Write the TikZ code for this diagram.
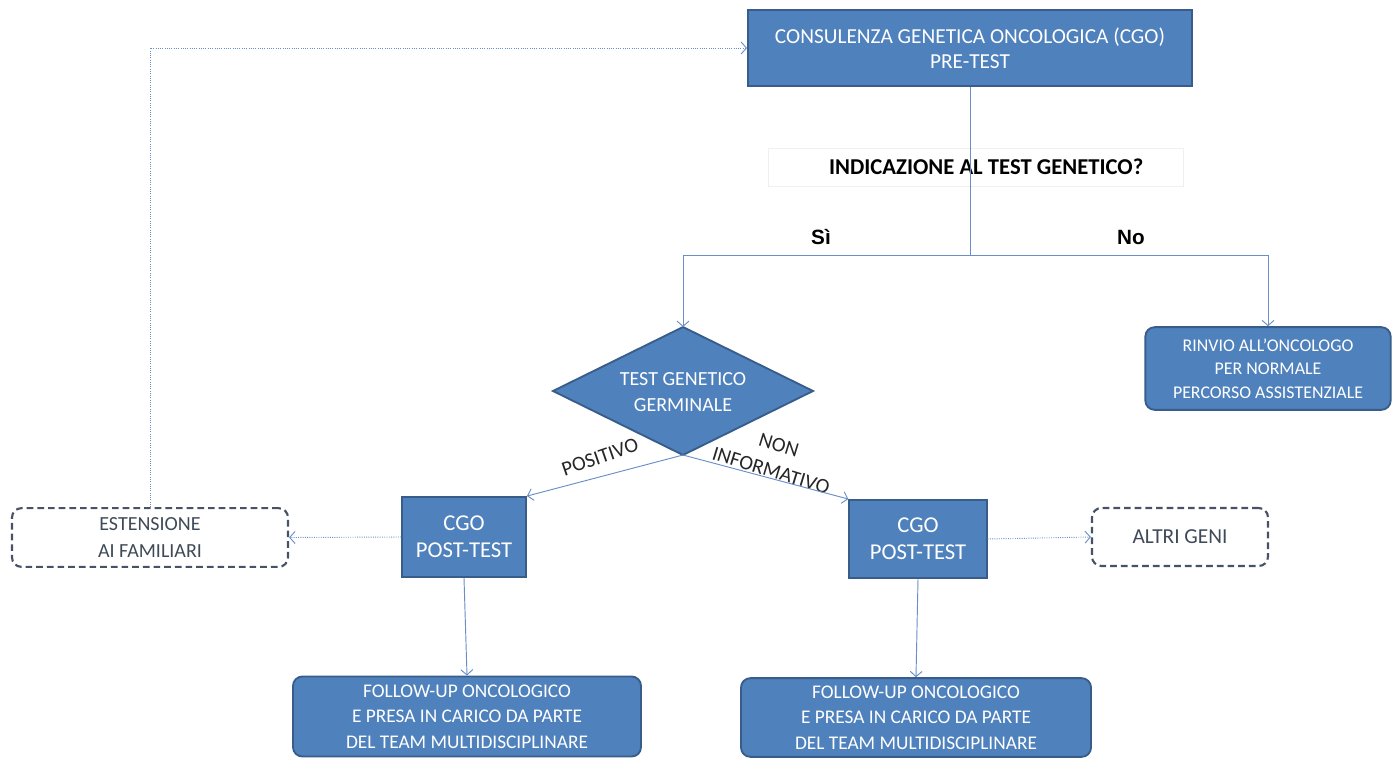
\documentclass[tikz,border=0pt]{standalone}
\usepackage{fontspec}
\setmainfont{Carlito}
\newfontfamily\arialb{Liberation Sans}
\usetikzlibrary{shapes.geometric,arrows.meta,calc}
\definecolor{boxfill}{HTML}{4F81BD}
\definecolor{boxline}{HTML}{385D8A}
\definecolor{conn}{HTML}{6A8FC6}
\definecolor{dashline}{HTML}{465366}
\definecolor{dashtext}{HTML}{3F4A58}
\tikzset{
  bluebox/.style={draw=boxline, line width=1.4pt, fill=boxfill, text=white, align=center, inner sep=2pt},
  roundbox/.style={bluebox, rounded corners=7pt},
  dashbox/.style={draw=dashline, line width=1.6pt, dash pattern=on 5pt off 3pt, rounded corners=7pt, text=dashtext, align=center},
  conline/.style={draw=conn, line width=0.7pt},
  arr/.style={conline, -{Straight Barb[length=4pt,width=9pt]}},
  dotarr/.style={arr, densely dotted},
  lbl/.style={font=\fontsize{15.5}{20}\selectfont, text=black!85, inner sep=1pt}
}
\begin{document}
\begin{tikzpicture}[x=0.75pt,y=-0.75pt]
\useasboundingbox (0,0) rectangle (1395,760);
% nodes
\node[bluebox, minimum width=333pt, minimum height=57pt, font=\fontsize{16}{18.75}\selectfont] (top) at (970,48) {CONSULENZA GENETICA ONCOLOGICA (CGO)\\PRE-TEST};
\node[draw=black!6, fill=white, minimum width=311pt, minimum height=28.5pt, font=\bfseries\fontsize{17}{18}\selectfont] (ind) at (975.5,167) {\hspace*{16pt}INDICAZIONE AL TEST GENETICO?};
% diamond
\coordinate (diaN) at (683,327);
\coordinate (diaS) at (683,455);
\coordinate (diaW) at (553,391);
\coordinate (diaE) at (813,391);
\draw[draw=boxline, line width=1.4pt, fill=boxfill] (diaN) -- (diaE) -- (diaS) -- (diaW) -- cycle;
\node[text=white, align=center, font=\fontsize{15}{20}\selectfont] (dia) at (683,392) {TEST GENETICO\\GERMINALE};
\node[roundbox, minimum width=184pt, minimum height=62pt, font=\fontsize{13.4}{17.5}\selectfont] (rinvio) at (1268,368.5) {RINVIO ALL’ONCOLOGO\\PER NORMALE\\PERCORSO ASSISTENZIALE};
\node[bluebox, minimum width=93pt, minimum height=60pt, font=\fontsize{17}{20}\selectfont] (cgoL) at (464,537) {CGO\\POST-TEST};
\node[bluebox, minimum width=103pt, minimum height=58.5pt, font=\fontsize{17}{20}\selectfont] (cgoR) at (918,539) {CGO\\POST-TEST};
\node[dashbox, minimum width=207pt, minimum height=44pt, font=\fontsize{15}{20.5}\selectfont] (est) at (150,537.5) {ESTENSIONE\\AI FAMILIARI};
\node[dashbox, minimum width=132pt, minimum height=43.5pt, font=\fontsize{16}{19}\selectfont] (altri) at (1180,537) {ALTRI GENI};
\node[roundbox, minimum width=261pt, minimum height=60pt, font=\fontsize{14.5}{19}\selectfont] (folL) at (467,716.5) {FOLLOW-UP ONCOLOGICO\\E PRESA IN CARICO DA PARTE\\DEL TEAM MULTIDISCIPLINARE};
\node[roundbox, minimum width=262.5pt, minimum height=59pt, font=\fontsize{14.5}{19}\selectfont] (folR) at (916,717.5) {FOLLOW-UP ONCOLOGICO\\E PRESA IN CARICO DA PARTE\\DEL TEAM MULTIDISCIPLINARE};
% labels
\node[text=black, font=\arialb\bfseries\fontsize{15.5}{17}\selectfont] (si) at (821,237) {Sì};
\node[text=black, font=\arialb\bfseries\fontsize{15.5}{17}\selectfont] (no) at (1131,237) {No};
\node[lbl, rotate=19] (pos) at (600,457) {POSITIVO};
\node[lbl, rotate=-17, align=center] (noninf) at (775,458) {NON\\INFORMATIVO};
% connectors
\coordinate (split) at (970,255);
\draw[conline] (top.south) -- (split);
\draw[arr] (split) -| (diaN);
\draw[arr] (split) -| (rinvio.north);
\draw[arr] (diaS) -- (cgoL.north east);
\draw[arr] (diaS) -- (cgoR.north west);
\draw[dotarr] (cgoL.west) -- (est.east);
\draw[dotarr] (est.north) |- (top.west);
\draw[dotarr] (cgoR.east) -- (altri.west);
\draw[arr] (cgoL.south) -- (folL.north);
\draw[arr] (cgoR.south) -- (folR.north);
\end{tikzpicture}
\end{document}
